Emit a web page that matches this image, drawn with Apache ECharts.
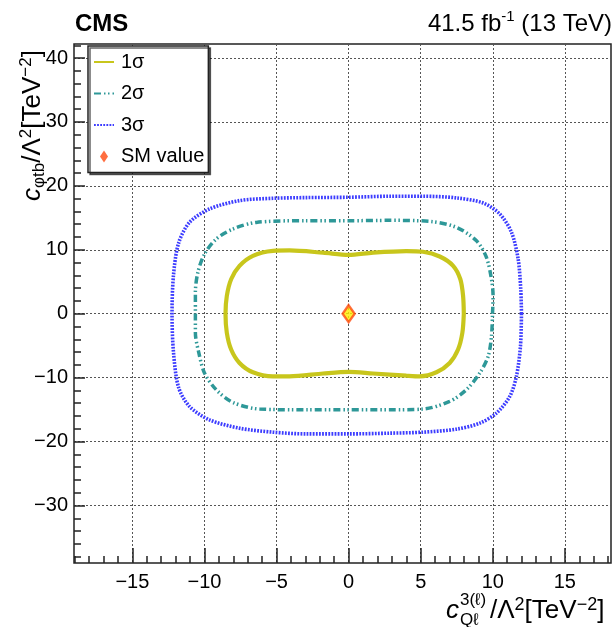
<!DOCTYPE html>
<html>
<head>
<meta charset="utf-8">
<script src="https://cdn.jsdelivr.net/npm/echarts@6/dist/echarts.min.js"></script>
<style>
html,body{margin:0;padding:0;background:#fff;}
#chart{width:615px;height:627px;}
</style>
</head>
<body>
<div id="chart"></div>
<script>
// ---- axis tick values ----
const xMajorTicks = [-15, -10, -5, 0, 5, 10, 15];
const xMinorTicks = [-19, -18, -17, -16, -15, -14, -13, -12, -11, -10, -9, -8, -7, -6, -5, -4, -3, -2, -1, 0, 1, 2, 3, 4, 5, 6, 7, 8, 9, 10, 11, 12, 13, 14, 15, 16, 17, 18];
const yMajorTicks = [-30, -20, -10, 0, 10, 20, 30, 40];
const yMinorTicks = [-38, -36, -34, -32, -30, -28, -26, -24, -22, -20, -18, -16, -14, -12, -10, -8, -6, -4, -2, 0, 2, 4, 6, 8, 10, 12, 14, 16, 18, 20, 22, 24, 26, 28, 30, 32, 34, 36, 38, 40, 42];
const xRange = [-19.05, 18.2];
const yRange = [-39.0, 42.2];

// ---- contour series ----
const sigma1X = [7.99, 7.94, 7.75, 7.25, 6.32, 5.16, 4.00, 1.69, 0, -1.78, -4.10, -5.25, -6.64, -7.57, -8.15, -8.45, -8.54, -8.45, -8.15, -7.57, -6.64, -5.25, -4.10, -1.78, 0, 1.69, 4.00, 4.93, 6.09, 7.01, 7.59, 7.89, 7.99];
const sigma1Y = [0, 2.77, 5.39, 7.49, 8.95, 9.69, 9.79, 9.55, 9.20, 9.55, 9.90, 9.84, 9.06, 7.49, 5.39, 2.77, 0, -2.98, -5.60, -7.70, -9.16, -9.79, -9.79, -9.35, -9.10, -9.35, -9.69, -9.79, -9.16, -7.70, -5.60, -2.98, 0];

const sigma2X = [9.98, 10.02, 9.91, 9.56, 8.87, 7.48, 5.63, 2.85, 0, -2.94, -6.41, -8.03, -9.19, -10.00, -10.46, -10.63, -10.63, -10.63, -10.39, -10.00, -9.19, -8.03, -6.18, -2.94, 0, 2.85, 5.16, 7.01, 8.17, 9.10, 9.68, 9.91, 9.98];
const sigma2Y = [0, 2.77, 5.39, 8.80, 11.41, 13.51, 14.45, 14.61, 14.55, 14.55, 14.29, 13.25, 11.68, 9.32, 6.44, 3.30, 0, -2.98, -6.13, -9.27, -11.88, -13.87, -14.92, -15.03, -15.03, -15.03, -14.92, -13.72, -11.88, -9.27, -6.65, -3.51, 0];

const sigma3X = [11.99, 11.94, 11.76, 11.30, 10.49, 9.33, 7.48, 5.16, 2.85, 0, -2.94, -5.25, -7.57, -9.65, -11.04, -11.80, -12.15, -12.25, -12.15, -11.80, -11.04, -9.65, -7.57, -5.25, -2.94, 0, 2.85, 5.16, 7.48, 9.10, 10.25, 11.18, 11.64, 11.92, 11.99];
const sigma3Y = [0, 3.82, 8.53, 12.72, 15.60, 17.33, 18.12, 18.38, 18.38, 18.22, 18.17, 18.06, 17.70, 16.39, 14.29, 11.0, 6.0, 0, -6.0, -11.5, -14.5, -16.60, -17.91, -18.53, -18.80, -18.80, -18.69, -18.53, -18.06, -17.12, -15.55, -12.93, -9.79, -5.08, 0];

const smX = [0];
const smY = [0];

const seriesNames = ['1\u03c3', '2\u03c3', '3\u03c3', 'SM value'];

const zip = (xs, ys) => xs.map((x, i) => [x, ys[i]]);
const FONT = '"Liberation Sans", Arial, sans-serif';
const minusFmt = v => String(v).replace('-', '\u2212');

const chart = echarts.init(document.getElementById('chart'), null, {renderer: 'canvas'});

const axisCommon = {
  type: 'value',
  axisLine: {show: false, onZero: false},
  splitLine: {show: false},
  minorTick: {show: false},
  minorSplitLine: {show: false}
};

const noSymbol = {color: 'rgba(0,0,0,0)', opacity: 0, borderWidth: 0};

const option = {
  animation: false,
  backgroundColor: '#fff',
  grid: {
    left: 74, right: 4, top: 44, bottom: 64,
    show: true, borderColor: '#222', borderWidth: 1.5, backgroundColor: '#fff',
    containLabel: false, outerBoundsMode: 'none'
  },
  xAxis: [
    Object.assign({}, axisCommon, {
      min: xRange[0], max: xRange[1], position: 'bottom',
      axisTick: {show: true, inside: true, length: 15, customValues: xMajorTicks, lineStyle: {color: '#222', width: 1.5}},
      axisLabel: {show: true, customValues: xMajorTicks, margin: 9, color: '#000', fontSize: 20, fontFamily: FONT, formatter: minusFmt},
      splitLine: {show: true, lineStyle: {color: '#555', width: 1, type: [2, 2]}}
    }),
    Object.assign({}, axisCommon, {
      min: xRange[0], max: xRange[1], position: 'bottom',
      axisTick: {show: true, inside: true, length: 7, customValues: xMinorTicks, lineStyle: {color: '#222', width: 1.5}},
      axisLabel: {show: false}
    })
  ],
  yAxis: [
    Object.assign({}, axisCommon, {
      min: yRange[0], max: yRange[1], position: 'left',
      axisTick: {show: true, inside: true, length: 11, customValues: yMajorTicks, lineStyle: {color: '#222', width: 1.5}},
      axisLabel: {show: true, customValues: yMajorTicks, margin: 6, color: '#000', fontSize: 20, fontFamily: FONT, formatter: minusFmt},
      splitLine: {show: true, lineStyle: {color: '#555', width: 1, type: [2, 2]}}
    }),
    Object.assign({}, axisCommon, {
      min: yRange[0], max: yRange[1], position: 'left',
      axisTick: {show: true, inside: true, length: 7, customValues: yMinorTicks, lineStyle: {color: '#222', width: 1.5}},
      axisLabel: {show: false}
    })
  ],
  legend: {
    left: 88, top: 46, orient: 'vertical',
    padding: [6, 4, 6, 5],
    itemWidth: 20, itemHeight: 14, itemGap: 11.5,
    selectedMode: false,
    backgroundColor: '#fff', borderColor: '#222', borderWidth: 1.5,
    shadowColor: 'rgba(0,0,0,0.6)', shadowOffsetX: 2, shadowOffsetY: 2, shadowBlur: 0,
    textStyle: {color: '#000', fontSize: 20, lineHeight: 20, fontFamily: FONT, padding: [0, 0, 0, 2]},
    data: [
      {name: seriesNames[0], itemStyle: noSymbol},
      {name: seriesNames[1], itemStyle: noSymbol},
      {name: seriesNames[2], itemStyle: noSymbol},
      {name: seriesNames[3], icon: 'path://M0,0 M20,14 M10,1 L14,7 L10,13 L6,7 Z', itemStyle: {color: '#ff4a10', borderWidth: 0}}
    ],
    z: 10
  },
  series: [
    {name: seriesNames[0], type: 'line', data: zip(sigma1X, sigma1Y), symbol: 'none', smooth: 0.3,
      lineStyle: {color: '#c8c61c', width: 4.2}, itemStyle: {color: '#c8c61c'}, z: 3, silent: true},
    {name: seriesNames[1], type: 'line', data: zip(sigma2X, sigma2Y), symbol: 'none', smooth: 0.3,
      lineStyle: {color: '#2e9898', width: 3.5, type: [7, 3, 1.5, 2.5, 1.5, 3]}, itemStyle: {color: '#2e9898'}, z: 3, silent: true},
    {name: seriesNames[2], type: 'line', data: zip(sigma3X, sigma3Y), symbol: 'none', smooth: 0.3,
      lineStyle: {color: '#3c3cff', width: 3.6, type: [1.8, 1.3]}, itemStyle: {color: '#3c3cff'}, z: 3, silent: true},
    {name: seriesNames[3], type: 'scatter', data: zip(smX, smY), symbol: 'diamond', symbolSize: [12, 17],
      itemStyle: {color: '#ffee00', borderColor: '#ff4a10', borderWidth: 2.5}, z: 5, silent: true}
  ],
  graphic: [
    {type: 'text', x: 75, y: 24, z: 20,
      style: {text: 'CMS', font: 'bold 24px ' + FONT, fill: '#000', align: 'left', verticalAlign: 'middle'}},
    {type: 'text', x: 612, y: 24, z: 20,
      style: {text: '41.5 fb{sup|-1} (13 TeV)', font: '24px ' + FONT, fill: '#000', align: 'right', verticalAlign: 'middle', lineHeight: 30,
        rich: {sup: {font: '15px ' + FONT, fill: '#000', verticalAlign: 'top', lineHeight: 30}}}},
    // x-axis title
    {type: 'text', x: 446, y: 611, z: 20,
      style: {text: 'c', font: 'italic 26px ' + FONT, fill: '#000', align: 'left', verticalAlign: 'middle'}},
    {type: 'text', x: 460, y: 600, z: 20,
      style: {text: '3(\u2113)', font: '17px ' + FONT, fill: '#000', align: 'left', verticalAlign: 'middle'}},
    {type: 'text', x: 460, y: 620, z: 20,
      style: {text: 'Q\u2113', font: '17px ' + FONT, fill: '#000', align: 'left', verticalAlign: 'middle'}},
    {type: 'text', x: 490, y: 611, z: 20,
      style: {text: '/\u039b{sup|2}[TeV{sup|\u22122}]', font: '26px ' + FONT, fill: '#000', align: 'left', verticalAlign: 'middle', lineHeight: 30,
        rich: {sup: {font: '18px ' + FONT, fill: '#000', verticalAlign: 'top', lineHeight: 30}}}},
    // y-axis title (rotated)
    {type: 'text', x: 33, y: 201, rotation: Math.PI / 2, z: 20,
      style: {text: '{c|c}{sub|\u03c6tb}/\u039b{sup|2}[TeV{sup|\u22122}]', font: '26px ' + FONT, fill: '#000', align: 'left', verticalAlign: 'middle', lineHeight: 30,
        rich: {
          c: {font: 'italic 26px ' + FONT, fill: '#000', lineHeight: 30},
          sub: {font: '17px ' + FONT, fill: '#000', verticalAlign: 'bottom', lineHeight: 30},
          sup: {font: '17px ' + FONT, fill: '#000', verticalAlign: 'top', lineHeight: 30}
        }}}
  ]
};

chart.setOption(option);
</script>
</body>
</html>
